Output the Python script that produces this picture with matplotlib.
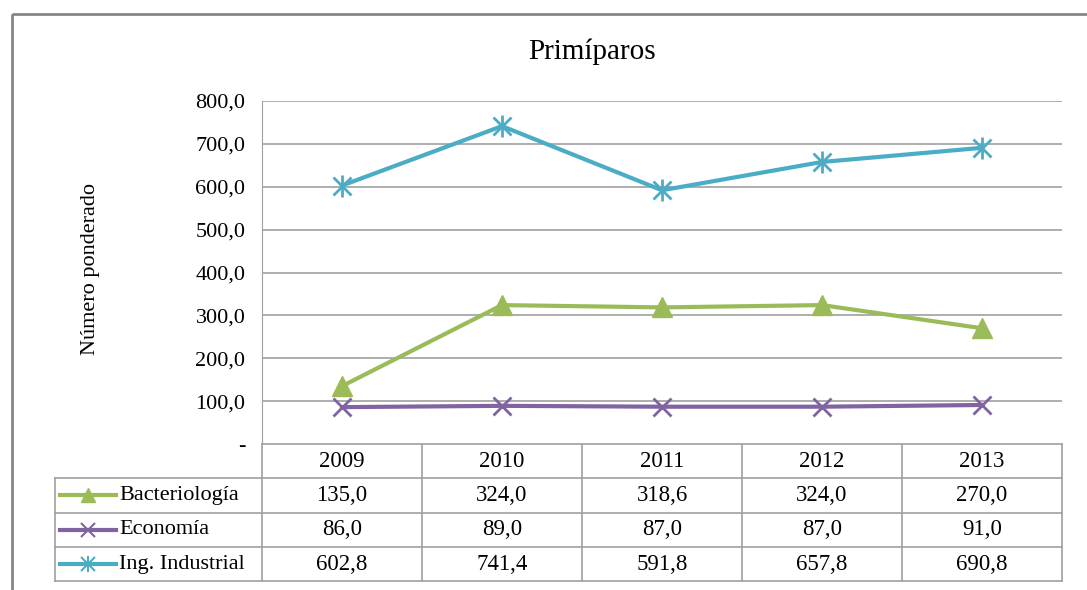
import matplotlib.pyplot as plt
from matplotlib.lines import Line2D
from matplotlib.patches import Rectangle

# Datos
years = ['2009', '2010', '2011', '2012', '2013']
bacteriologia = [135.0, 324.0, 318.6, 324.0, 270.0]
economia = [86.0, 89.0, 87.0, 87.0, 91.0]
industrial = [602.8, 741.4, 591.8, 657.8, 690.8]
names = ['Bacteriología', 'Economía', 'Ing. Industrial']
colors = ['#9BBB59', '#8064A2', '#4BACC6']
series = [bacteriologia, economia, industrial]

plt.rcParams['font.family'] = ['Liberation Serif', 'DejaVu Serif']

W, H = 1087, 590
fig = plt.figure(figsize=(W / 100, H / 100), dpi=100)

# overlay in pixel coordinates for frame and table
ov = fig.add_axes([0, 0, 1, 1])
ov.set_xlim(0, W)
ov.set_ylim(H, 0)
ov.axis('off')
ov.add_patch(Rectangle((12, 14), W, H, fill=False, edgecolor='#868686', lw=2))

px_l, px_r, px_t, px_b = 262, 1062, 101, 444
ax = fig.add_axes([px_l / W, 1 - px_b / H, (px_r - px_l) / W, (px_b - px_t) / H])
x = list(range(len(years)))

def fmt(v):
    return f'{v:.1f}'.replace('.', ',')

ax.plot(x, bacteriologia, color=colors[0], lw=3, marker='^', ms=14, zorder=3)
ax.plot(x, economia, color=colors[1], lw=3, marker='x', ms=13, mew=2, zorder=3)
ax.plot(x, industrial, color=colors[2], lw=3, marker='x', ms=13, mew=2, zorder=3)
ax.plot(x, industrial, ls='none', color=colors[2], marker='|', ms=16, mew=2, zorder=3)

ax.set_xlim(-0.5, len(years) - 0.5)
ax.set_ylim(0, 800)
ticks = list(range(0, 801, 100))
ax.set_yticks(ticks)
ax.set_yticklabels(['-'] + [fmt(t) for t in ticks[1:]], fontsize=16)
ax.set_xticks([])
ax.tick_params(axis='y', length=0, pad=12)
for s in ['top', 'right', 'bottom']:
    ax.spines[s].set_visible(False)
ax.spines['left'].set_color('#A0A0A0')
ax.grid(axis='y', color='#A0A0A0', lw=1.2)
ax.set_axisbelow(True)
ax.set_ylabel('Número ponderado', fontsize=16, labelpad=0)
ax.yaxis.set_label_coords((100 - px_l) / (px_r - px_l), 0.51)
fig.text(592 / W, 1 - 52 / H, 'Primíparos', fontsize=21, ha='center', va='center')

# tabla de datos
col_w = (px_r - px_l) / len(years)
row_h = 34.3
tl = 55
gc = '#A0A0A0'
rows_y = [px_b + row_h * i for i in range(5)]
ov.add_line(Line2D([px_l, px_r], [px_b, px_b], color=gc, lw=1.2))
for i in range(1, 5):
    ov.add_line(Line2D([tl, px_r], [rows_y[i], rows_y[i]], color=gc, lw=1.2))
ov.add_line(Line2D([tl, tl], [rows_y[1], rows_y[4]], color=gc, lw=1.2))
for j in range(len(years) + 1):
    xx = px_l + col_w * j
    ov.add_line(Line2D([xx, xx], [px_b, rows_y[4]], color=gc, lw=1.2))
for j, yr in enumerate(years):
    ov.text(px_l + col_w * (j + 0.5), (rows_y[0] + rows_y[1]) / 2, yr,
            ha='center', va='center', fontsize=16.5)
for i, (nm, c, vals) in enumerate(zip(names, colors, series)):
    yc = (rows_y[i + 1] + rows_y[i + 2]) / 2
    ov.add_line(Line2D([60, 116], [yc, yc], color=c, lw=3))
    if i == 0:
        ov.plot([88], [yc], marker='^', color=c, ms=10)
    elif i == 1:
        ov.plot([88], [yc], marker='x', color=c, ms=10, mew=1.5)
    else:
        ov.plot([88], [yc], marker='x', color=c, ms=10, mew=1.5)
        ov.plot([88], [yc], marker='|', color=c, ms=12, mew=1.5)
    ov.text(119, yc, nm, ha='left', va='center', fontsize=16)
    for j, v in enumerate(vals):
        ov.text(px_l + col_w * (j + 0.5), yc, fmt(v), ha='center', va='center', fontsize=16.5)

fig.savefig('out.png', dpi=100)
